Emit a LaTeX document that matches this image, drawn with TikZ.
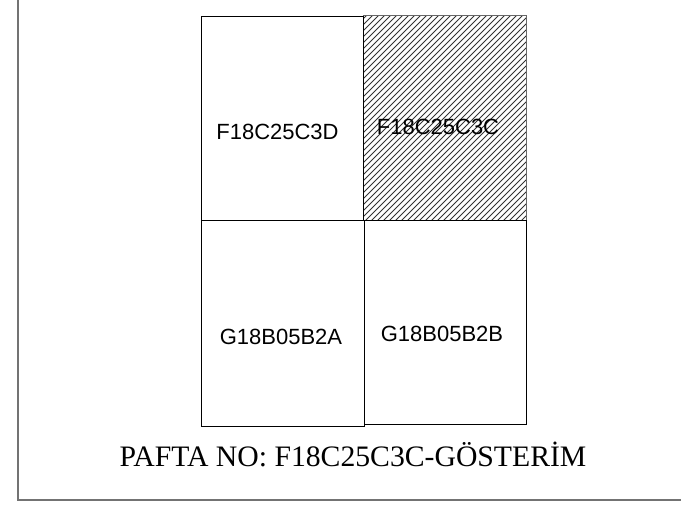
\documentclass[tikz,border=0pt]{standalone}
\usepackage{fontspec}
\setmainfont{Liberation Serif}
\newfontfamily\labelfont{Liberation Sans}
\begin{document}
\begin{tikzpicture}[x=1pt,y=-1pt,
  cell/.style={draw=black,line width=1pt},
  hatchcell/.style={draw=black!60,line width=1pt},
  hatchline/.style={draw=black!80,line width=1pt},
  frameline/.style={draw=black!55,line width=2pt},
  celllabel/.style={font=\labelfont\fontsize{22}{24}\selectfont,inner sep=0pt,anchor=base},
  captionlabel/.style={font=\fontsize{29.7}{32}\selectfont,inner sep=0pt,anchor=base}]
\useasboundingbox (0,0) rectangle (681,505);
% outer frame (left and bottom)
\coordinate (ftop) at (18,0);
\coordinate (fcorner) at (18,500);
\coordinate (fright) at (681,500);
\draw[frameline] (ftop) -- (fcorner) -- (fright);
% hatched cell
\begin{scope}
\clip (363,16) rectangle (526,221);
\foreach \k in {-250,-244,...,200}{
  \draw[hatchline] (363+\k,221) -- ++(260,-260);
}
\end{scope}
\draw[hatchcell] (363,16) rectangle (526,221);
% other cells
\draw[cell] (201,17) rectangle (363,221);
\draw[cell] (201,221) rectangle (364,427);
\draw[cell] (364,221) rectangle (526,425);
% labels
\node[celllabel] (d) at (277.5,139.5) {F18C25C3D};
\node[celllabel] (c) at (438,135) {F18C25C3C};
\node[celllabel] (a) at (281,345) {G18B05B2A};
\node[celllabel] (b) at (442,342) {G18B05B2B};
\node[captionlabel] (cap) at (353,466) {PAFTA NO: F18C25C3C-GÖSTERİM};
\end{tikzpicture}
\end{document}
